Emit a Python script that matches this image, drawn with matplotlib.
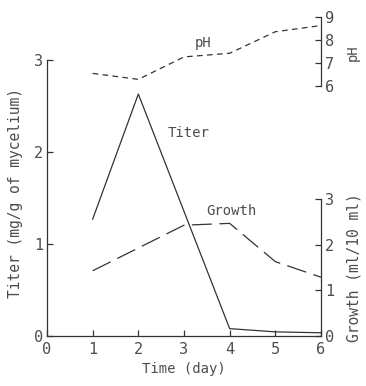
import matplotlib
matplotlib.use("Agg")
import matplotlib.pyplot as plt

# data
days = [1, 2, 3, 4, 5, 6]
titer_days = [1, 2, 4, 5, 6]
titer = [1.27, 2.63, 0.08, 0.045, 0.035]      # mg/g of mycelium
growth = [1.43, 1.93, 2.43, 2.47, 1.63, 1.29]  # ml/10 ml
ph = [6.55, 6.29, 7.27, 7.43, 8.37, 8.64]

x_ticks = [0, 1, 2, 3, 4, 5, 6]
titer_ticks = [0, 1, 2, 3]
growth_ticks = [0, 1, 2, 3]
ph_ticks = [6, 7, 8, 9]

ink = "#333333"
txt = "#4d4d4d"
plt.rcParams['font.family'] = ['DejaVu Sans Mono', 'DejaVu Sans']

W, H = 366, 386
fig = plt.figure(figsize=(W / 100, H / 100), dpi=100)
# axes box in pixels: left 47, right 321, bottom 336, top 10
ax = fig.add_axes([47 / W, (H - 336) / H, 274 / W, 326 / H])
ax2 = ax.twinx()
ax3 = ax.twinx()

# titer (left scale)
ax.plot(titer_days, titer, color=ink, lw=0.9, clip_on=False)
ax.set_xlim(0, 6)
ax.set_ylim(0, 326 / 92)
ax.set_xticks(x_ticks)
ax.set_yticks(titer_ticks)
for s in ["top", "right"]:
    ax.spines[s].set_visible(False)
ax.spines["left"].set_bounds(0, 3)
ax.set_xlabel("Time (day)", fontsize=10, color=txt, labelpad=4)

# growth (lower right scale)
ax2.plot(days, growth, color=ink, lw=0.9, dashes=(16, 6), clip_on=False)
ax2.set_ylim(0, 326 / 45.6)
ax2.set_yticks(growth_ticks)
ax2.spines["right"].set_bounds(0, 3)

# pH (upper right scale)
ax3.plot(days, ph, color=ink, lw=0.9, dashes=(4.5, 3.5), clip_on=False)
ax3.set_ylim(6 - 250 / 22.9, 6 + 76 / 22.9)
ax3.set_yticks(ph_ticks)
ax3.spines["right"].set_bounds(6, 9)

for a in (ax2, ax3):
    for s in ["top", "left", "bottom"]:
        a.spines[s].set_visible(False)

for a in (ax, ax2, ax3):
    for s in a.spines.values():
        s.set_color(ink)
        s.set_linewidth(0.9)
    a.tick_params(direction="in", length=4, width=0.9, colors=ink,
                  labelcolor=txt, labelsize=11, pad=3)
ax.tick_params(axis="x", pad=4)

# curve labels (placed in titer data units)
ax.text((203 - 47) / 274 * 6, (336 - 43) / 92, "pH",
        fontsize=10, color=txt, ha="center", va="center")
ax.text((189 - 47) / 274 * 6, (336 - 133) / 92, "Titer",
        fontsize=10, color=txt, ha="center", va="center")
ax.text((231 - 47) / 274 * 6, (336 - 211) / 92, "Growth",
        fontsize=10, color=txt, ha="center", va="center")

# axis titles
fig.text(16 / W, 1 - 193 / H, "Titer (mg/g of mycelium)", rotation=90,
         fontsize=10.5, color=txt, ha="center", va="center")
fig.text(354 / W, 1 - 268 / H, "Growth (ml/10 ml)", rotation=90,
         fontsize=10.5, color=txt, ha="center", va="center")
fig.text(353 / W, 1 - 53 / H, "pH", rotation=90,
         fontsize=10, color=txt, ha="center", va="center")

fig.savefig("out.png", dpi=100)
